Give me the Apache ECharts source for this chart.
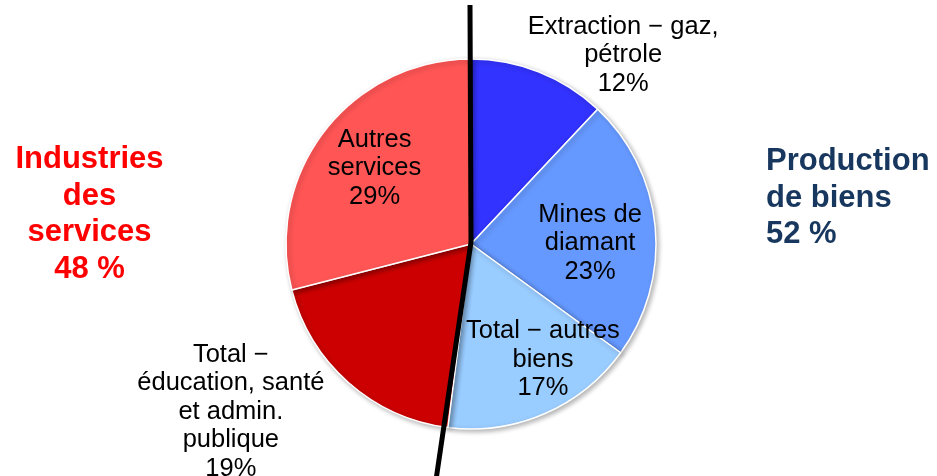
<!DOCTYPE html>
<html>
<head>
<meta charset="utf-8">
<script src="https://cdn.jsdelivr.net/npm/echarts@6/dist/echarts.min.js"></script>
<style>
    html, body { margin: 0; padding: 0; background: #fff; }
    #main { width: 937px; height: 476px; }
</style>
</head>
<body>
<div id="main"></div>
<script>
// données du graphique
var categories = [
    'Extraction \u2212 gaz,\npétrole',
    'Mines de\ndiamant',
    'Total \u2212 autres\nbiens',
    'Total \u2212\néducation, santé\net admin.\npublique',
    'Autres\nservices'
];
var values = [12, 23, 17, 19, 29];
var colors = ['#3333FF', '#6699FF', '#99CCFF', '#CC0000', '#FF5555'];
var groupTitles = ['Industries\ndes\nservices\n48 %', 'Production\nde biens\n52 %'];

// décalage des étiquettes par rapport à la position "inside"
var labelShift = [[117, -100], [24, 8], [34, 28], [-177, 96], [-21, -17]];

var chart = echarts.init(document.getElementById('main'));

var data = [];
for (var i = 0; i < values.length; i++) {
    data.push({
        name: categories[i],
        value: values[i],
        itemStyle: { color: colors[i] }
    });
}

var option = {
    animation: false,
    textStyle: { fontFamily: 'Liberation Sans, Arial, sans-serif' },
    series: [{
        type: 'pie',
        center: [471, 244],
        radius: [0, 185],
        startAngle: 90,
        clockwise: true,
        avoidLabelOverlap: false,
        itemStyle: {
            borderColor: '#fff',
            borderWidth: 1.5,
            shadowBlur: 5,
            shadowColor: 'rgba(0,0,0,0.3)',
            shadowOffsetX: 2,
            shadowOffsetY: 2
        },
        label: {
            show: true,
            position: 'inside',
            formatter: '{b}\n{d}%',
            color: '#000',
            fontSize: 25.5,
            lineHeight: 28.5,
            align: 'center'
        },
        labelLine: { show: false },
        labelLayout: function(params) {
            var s = labelShift[params.dataIndex];
            return { dx: s[0], dy: s[1] };
        },
        emphasis: { disabled: true },
        data: data
    }],
    graphic: [{
        type: 'text',
        x: 89.5,
        y: 214.5,
        style: {
            text: groupTitles[0],
            fill: '#FF0000',
            font: 'bold 31px Liberation Sans, Arial, sans-serif',
            lineHeight: 36.7,
            align: 'center',
            verticalAlign: 'middle'
        }
    }, {
        type: 'text',
        x: 766,
        y: 198,
        style: {
            text: groupTitles[1],
            fill: '#17375E',
            font: 'bold 31px Liberation Sans, Arial, sans-serif',
            lineHeight: 36.7,
            align: 'left',
            verticalAlign: 'middle'
        }
    }, {
        // trait de séparation biens / services
        type: 'polyline',
        z: 100,
        shape: { points: [[470, 5], [471, 242], [436, 480]] },
        style: { stroke: '#000', lineWidth: 5, fill: null }
    }]
};

chart.setOption(option);
</script>
</body>
</html>
